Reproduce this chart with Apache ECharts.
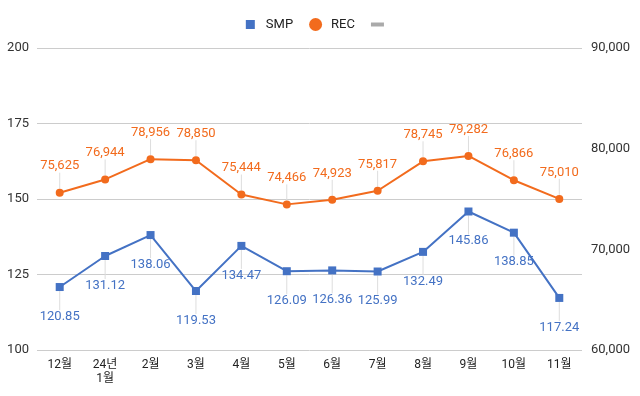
<!DOCTYPE html>
<html><head><meta charset="utf-8">
<script src="https://cdn.jsdelivr.net/npm/echarts@6/dist/echarts.min.js"></script>
<style>html,body{margin:0;padding:0;background:#fff}#c{width:640px;height:396px}</style>
</head><body><div id="c"></div>
<script>
const categories = ['12월','24년\n1월','2월','3월','4월','5월','6월','7월','8월','9월','10월','11월'];
const smp = [120.85,131.12,138.06,119.53,134.47,126.09,126.36,125.99,132.49,145.86,138.85,117.24];
const rec = [75625,76944,78956,78850,75444,74466,74923,75817,78745,79282,76866,75010];
const leftTicks = {min:100, max:200, interval:25};
const rightTicks = {min:60000, max:90000, interval:10000};

const FONT = 'Roboto, "Noto Sans CJK KR", sans-serif';
const BLUE = '#4472c4', ORANGE = '#f26b1d', GREY = '#aaaaaa';
const fmt = v => String(v).replace(/\B(?=(\d{3})+(?!\d))/g, ',');

const chart = echarts.init(document.getElementById('c'));
chart.setOption({
  animation:false,
  textStyle:{fontFamily:FONT},
  legend:{
    top:13, left:'center', itemWidth:13, itemHeight:13, itemGap:16,
    textStyle:{fontSize:13, color:'#222', fontFamily:FONT, padding:[0,0,0,4]},
    lineStyle:{width:0},
    data:[
      {name:'SMP', icon:'path://M0,0M13,13M2,2h9v9h-9z'},
      {name:'REC', icon:'circle'},
      {name:' ', icon:'path://M0,0M13,13M0,4.5h13v4h-13z'}
    ]
  },
  grid:{left:37, right:58, top:48, bottom:46},
  xAxis:{
    type:'category', data:categories, boundaryGap:true,
    axisLine:{show:false}, axisTick:{show:false},
    axisLabel:{color:'#222', fontSize:12, margin:8, lineHeight:14, fontFamily:FONT}
  },
  yAxis:[
    {type:'value', min:leftTicks.min, max:leftTicks.max, interval:leftTicks.interval, position:'left',
     axisLine:{show:false}, axisTick:{show:false},
     axisLabel:{color:'#333', fontSize:13, margin:8, fontFamily:FONT},
     splitLine:{lineStyle:{color:'#cccccc', width:1}}},
    {type:'value', min:rightTicks.min, max:rightTicks.max, interval:rightTicks.interval, position:'right',
     axisLine:{show:false}, axisTick:{show:false},
     axisLabel:{color:'#333', fontSize:13, margin:9, fontFamily:FONT, formatter:fmt},
     splitLine:{show:false}}
  ],
  series:[
    {name:'SMP', type:'line', yAxisIndex:0, data:smp, color:BLUE,
     symbol:'rect', symbolSize:8, lineStyle:{width:2, color:BLUE}, itemStyle:{color:BLUE},
     label:{show:true, position:'bottom', distance:0, color:BLUE, fontSize:13, fontFamily:FONT},
     labelLayout:{dy:19},
     labelLine:{show:true, lineStyle:{color:'#dddddd', width:1}}},
    {name:'REC', type:'line', yAxisIndex:1, data:rec, color:ORANGE,
     symbol:'circle', symbolSize:8, lineStyle:{width:2, color:ORANGE}, itemStyle:{color:ORANGE},
     label:{show:true, position:'top', distance:0, color:ORANGE, fontSize:13, fontFamily:FONT, formatter:p=>fmt(p.value)},
     labelLayout:{dy:-16},
     labelLine:{show:true, lineStyle:{color:'#dddddd', width:1}}},
    {name:' ', type:'line', yAxisIndex:0, data:[], color:GREY, itemStyle:{color:GREY}}
  ]
});
</script></body></html>
